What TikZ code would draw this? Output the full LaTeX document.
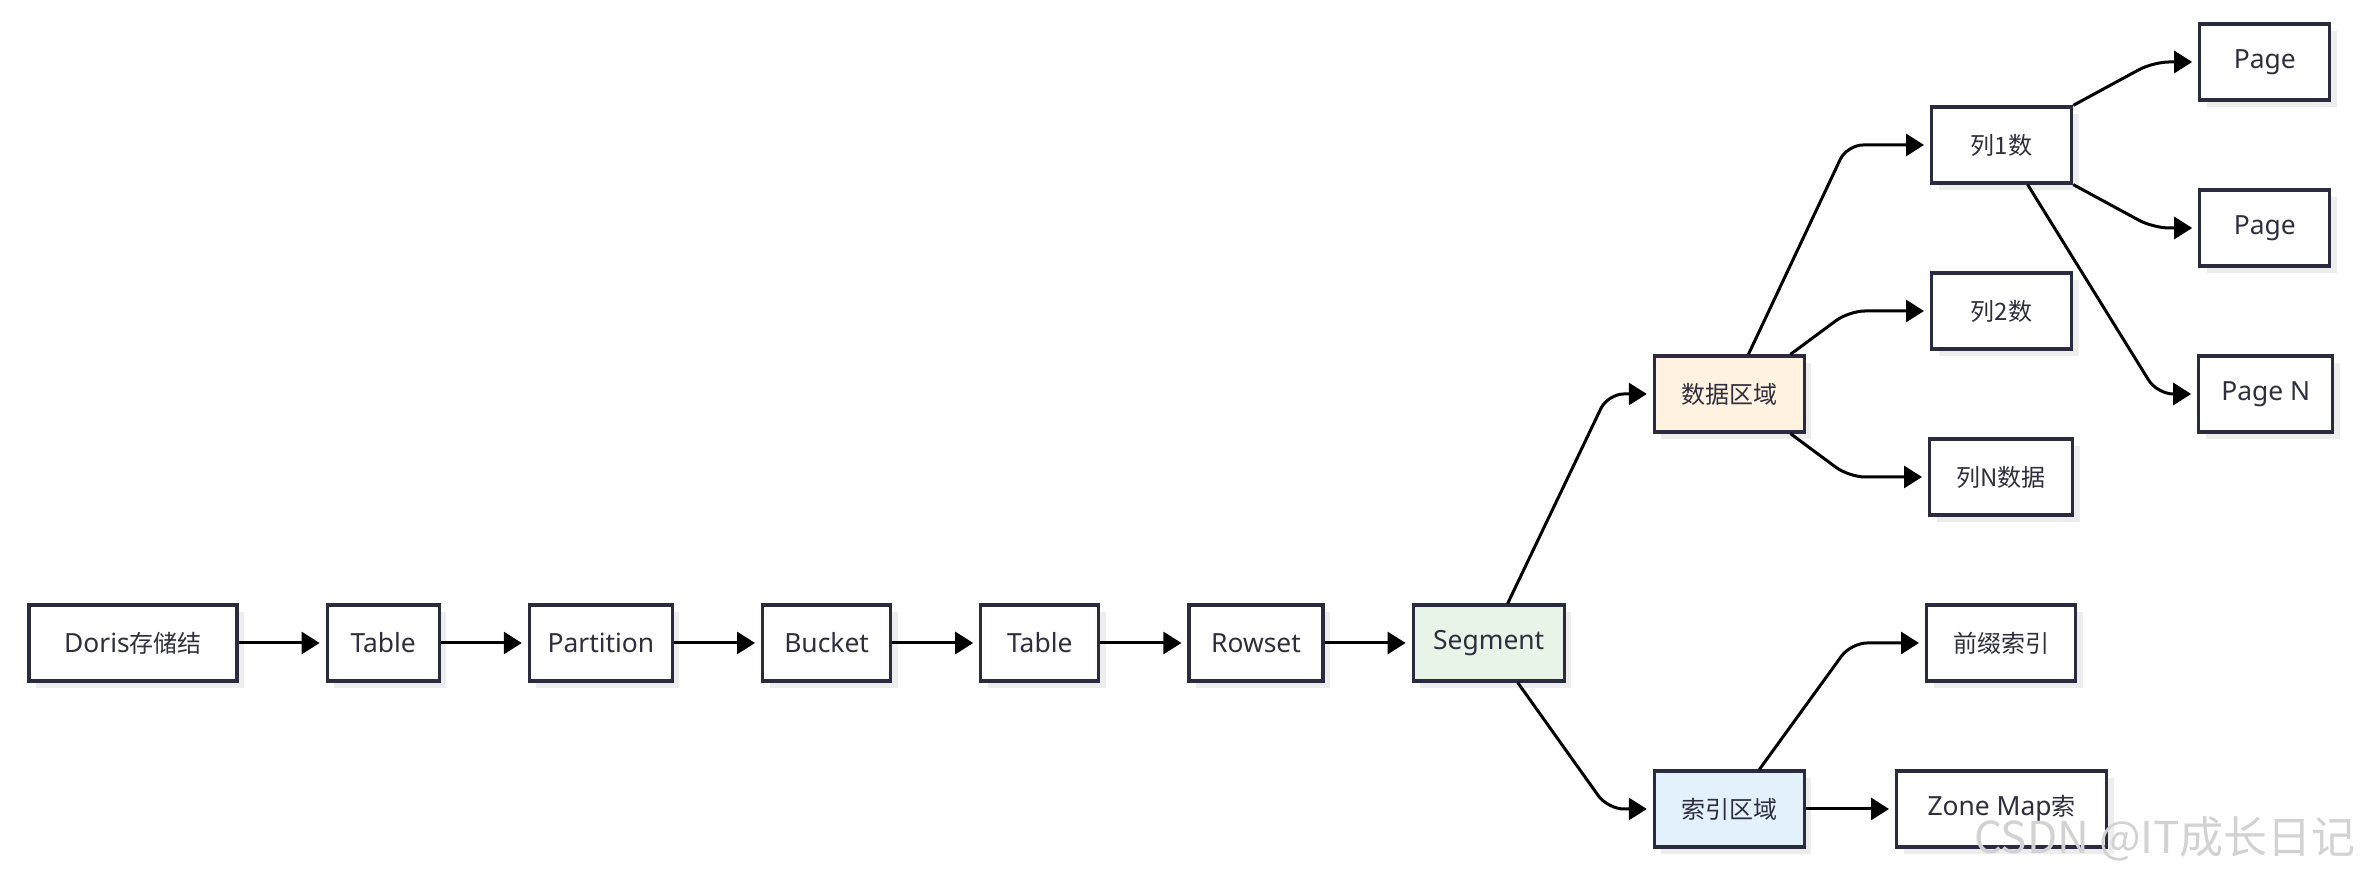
\documentclass[tikz,border=0pt]{standalone}
\usepackage{fontspec}
\newfontfamily\latin{Noto Sans}[Scale=1.1]
\newfontfamily\cjk{Noto Sans CJK SC}
\usetikzlibrary{arrows.meta, positioning, calc, shadows}
\definecolor{frame}{HTML}{2B2B40}
\definecolor{ink}{HTML}{2E2E3E}
\definecolor{segfill}{HTML}{E8F4E8}
\definecolor{datfill}{HTML}{FFF2E0}
\definecolor{idxfill}{HTML}{E3F1FC}

\begin{document}
\begin{tikzpicture}[
    node distance=43.5pt, % gap between boxes in the chain
    box/.style={draw=frame, line width=1.6pt, fill=white, text=ink, minimum height=38pt, inner sep=2pt,
      font=\latin\fontsize{12}{14}\selectfont,
      drop shadow={shadow xshift=3.5pt, shadow yshift=-3.5pt, fill=black!7, opacity=1}},
    link/.style={->, line width=1.5pt, shorten >=3pt, rounded corners=8pt}, % arrow style
    >={Triangle[length=9pt,width=11pt]} % arrowhead style
  ]
  \useasboundingbox (0,0) rectangle (1183pt,438pt);

  % Main chain
  \node (doris) [box, minimum width=104pt] at (66.5pt,116.5pt) {Doris{\cjk 存储结}};
  \node (table) [box, minimum width=56pt, right=of doris] {Table};
  \node (part) [box, minimum width=71.5pt, right=of table] {Partition};
  \node (bucket) [box, minimum width=64pt, right=of part] {Bucket};
  \node (tablet) [box, minimum width=59pt, right=of bucket] {Table};
  \node (rowset) [box, minimum width=67pt, right=of tablet] {Rowset};
  \node (seg) [box, fill=segfill, minimum width=75.5pt, right=of rowset] {Segment};

  % Segment areas
  \node (dat) [box, fill=datfill, minimum width=75pt, right=of seg, yshift=124.5pt] {\cjk 数据区域};
  \node (idx) [box, fill=idxfill, minimum width=75pt, right=of seg, yshift=-83pt] {\cjk 索引区域};

  % Columns and indexes
  \node (col1) [box, minimum width=70pt, right=62pt of dat, yshift=124.5pt] {\cjk 列1数};
  \node (col2) [box, minimum width=70pt, right=62pt of dat, yshift=41.5pt] {\cjk 列2数};
  \node (coln) [box, minimum width=71.5pt, right=61pt of dat, yshift=-41.5pt] {\cjk 列N数据};
  \node (pre) [box, minimum width=74.5pt, right=59.5pt of idx, yshift=83pt] {\cjk 前缀索引};
  \node (zone) [box, minimum width=105pt, right=44.5pt of idx] {Zone Map{\cjk 索}};

  % Pages
  \node (page1) [box, minimum width=65pt, right=62.5pt of col1, yshift=41.5pt] {Page};
  \node (page2) [box, minimum width=65pt, right=62.5pt of col1, yshift=-41.5pt] {Page};
  \node (pagen) [box, minimum width=67pt, right=62pt of col1, yshift=-124.5pt] {Page N};

  % Arrows
  \draw[link] (doris) -- (table);
  \draw[link] (table) -- (part);
  \draw[link] (part) -- (bucket);
  \draw[link] (bucket) -- (tablet);
  \draw[link] (tablet) -- (rowset);
  \draw[link] (rowset) -- (seg);
  \draw[link] ($(seg.north)+(9.5pt,0)$) -- ($(dat.west)+(-22.5pt,0)$) -- (dat.west);
  \draw[link] ($(seg.south)+(14.5pt,0)$) -- ($(idx.west)+(-22.5pt,0)$) -- (idx.west);
  \draw[link] ($(dat.north)+(9.5pt,0)$) -- ($(col1.west)+(-41.5pt,0)$) -- (col1.west);
  \draw[link] ($(dat.north)+(30.5pt,0)$) -- ($(col2.west)+(-40.5pt,0)$) -- (col2.west);
  \draw[link] ($(dat.south)+(30.5pt,0)$) -- ($(coln.west)+(-39.5pt,0)$) -- (coln.west);
  \draw[link] (col1.north east) -- ($(page1.west)+(-22.5pt,0)$) -- (page1.west);
  \draw[link] (col1.south east) -- ($(page2.west)+(-22.5pt,0)$) -- (page2.west);
  \draw[link] ($(col1.south)+(13pt,0)$) -- ($(pagen.west)+(-20pt,0)$) -- (pagen.west);
  \draw[link] ($(idx.north)+(15pt,0)$) -- ($(pre.west)+(-37pt,0)$) -- (pre.west);
  \draw[link] (idx) -- (zone);

  % Watermark
  \node (wm) [text=gray!35, font=\cjk\fontsize{22}{26}\selectfont] at (1082.5pt,18.5pt) {CSDN @IT成长日记};
\end{tikzpicture}
\end{document}
